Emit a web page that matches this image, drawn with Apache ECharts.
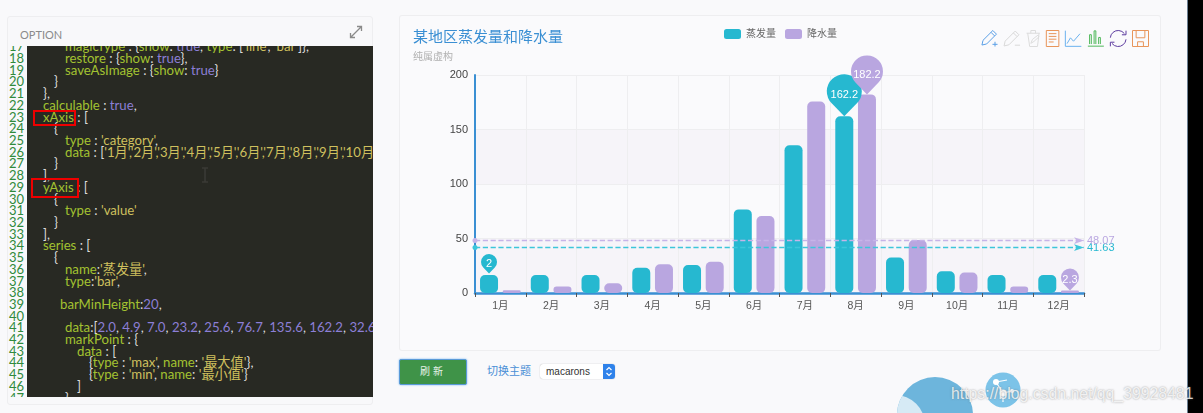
<!DOCTYPE html>
<html>
<head>
<meta charset="utf-8">
<title>某地区蒸发量和降水量</title>
<script src="https://cdn.jsdelivr.net/npm/echarts@6/dist/echarts.min.js"></script>
<style>
  html, body { margin: 0; padding: 0; width: 1203px; height: 413px; overflow: hidden; background: #f9f9fb; font-family: "Liberation Sans", "Noto Sans CJK SC", sans-serif; }
  .abs { position: absolute; }
  #optionPanel { left: 7px; top: 16px; width: 366px; height: 389px; background: #f8f8fa; border: 1px solid #eeeef0; border-radius: 3px; box-sizing: border-box; }
  #optionTitle { left: 20px; top: 28px; font-size: 11px; color: #8a8a8a; font-family: Lato, sans-serif; }
  #editor { left: 27px; top: 46px; width: 346px; height: 351px; background: #282923; overflow: hidden; }
  #gutter { left: 7px; top: 46px; width: 20px; height: 351px; overflow: hidden; }
  .ln { position: absolute; left: 0; width: 17px; text-align: right; font: 13px/12px Lato, sans-serif; color: #2f8a3c; }
  .cl { position: absolute; white-space: pre; font: 13.2px/12px Lato, "Noto Sans CJK SC", sans-serif; color: #ddd; }
  .k { color: #a3c231; } .s { color: #cfc05e; } .n { color: #8c7fd6; }
  .redbox { border: 2px solid #ee0000; box-sizing: border-box; }
  #chartPanel { left: 400px; top: 16px; width: 760px; height: 334px; background: #fafafc; box-shadow: 0 0 0 1px #eeeef0; border-radius: 2px; }
  #chart { width: 760px; height: 334px; }
  #refresh { left: 399px; top: 359px; width: 68px; height: 26px; background: #3f9348; border: 1px solid #5a9ad8; box-shadow: 0 0 2px #6db0ee; border-radius: 2px; box-sizing: border-box; color: #e8f2e8; font-size: 10px; line-height: 24px; text-align: center; letter-spacing: 3px; }
  #themeLabel { left: 487px; top: 364px; font-size: 11px; line-height: 14px; color: #4a8fd6; }
  #themeSelect { left: 540px; top: 364px; width: 75px; height: 15px; background: #fff; border-radius: 3px; box-shadow: 0 0 1px #999; font: 10px/15px "Liberation Sans", sans-serif; color: #333; padding-left: 6px; box-sizing: border-box; }
  #themeStep { right: 0; top: 0; width: 12px; height: 15px; background: #2f82ea; border-radius: 0 3px 3px 0; }
  #blackEdge { left: 1187px; top: 0; width: 16px; height: 413px; background: #000; border-left: 1px solid #6b7f92; box-sizing: border-box; }
  #mark { left: 951px; top: 385px; font: 15.8px/18px "Liberation Sans", sans-serif; color: rgba(255,255,255,0.8); text-shadow: 0 0 2px rgba(110,110,110,0.7); white-space: nowrap; }
</style>
</head>
<body>
<div class="abs" id="optionPanel"></div>
<div class="abs" id="optionTitle">OPTION</div>
<svg class="abs" style="left:349px;top:25px" width="14" height="14" viewBox="0 0 14 14"><path d="M2 12 L12 2 M8 1.5 H12.5 V6 M1.5 8 V12.5 H6" fill="none" stroke="#8a8a8a" stroke-width="1.3"/></svg>
<div class="abs" id="gutter"></div>
<div class="abs" id="editor"></div>
<div class="abs redbox" style="left:33px;top:110px;width:43px;height:16px"></div>
<div class="abs redbox" style="left:31px;top:178px;width:48px;height:20px"></div>
<svg class="abs" style="left:200px;top:167px" width="10" height="16" viewBox="0 0 10 16"><path d="M2 1 H8 M5 1 V15 M2 15 H8" fill="none" stroke="#3a3a36" stroke-width="1.6"/></svg>

<div class="abs" id="chartPanel"><div id="chart"></div></div>

<div class="abs" id="refresh">刷新</div>
<div class="abs" id="themeLabel">切换主题</div>
<div class="abs" id="themeSelect">macarons<div class="abs" id="themeStep"><svg width="12" height="15" viewBox="0 0 12 15"><path d="M3.5 6 L6 3.5 L8.5 6 M3.5 9 L6 11.5 L8.5 9" fill="none" stroke="#fff" stroke-width="1.2"/></svg></div></div>

<svg class="abs" style="left:880px;top:365px" width="160" height="48" viewBox="880 365 160 48">
  <clipPath id="bigClip"><circle cx="935" cy="415" r="38"/></clipPath>
  <circle cx="935" cy="415" r="38" fill="#6db5dc"/>
  <circle cx="895" cy="425" r="30" fill="#d6eaf5" clip-path="url(#bigClip)"/>
  <circle cx="1003" cy="390" r="17.5" fill="#7cc3e8"/>
  <path d="M996 382 L1007 380 M996 382 L1003 393 L1012 391 M1003 393 L1003 402" stroke="#fff" stroke-width="1.2" fill="none"/>
  <circle cx="996" cy="382" r="3" fill="#fff"/><circle cx="1003" cy="393" r="3.5" fill="#fff"/><circle cx="1012" cy="391" r="2" fill="#fff"/>
</svg>
<div class="abs" id="blackEdge"></div>
<div class="abs" id="mark">https://blog.csdn.net/qq_39928481</div>

<script>
const months = ["1月", "2月", "3月", "4月", "5月", "6月", "7月", "8月", "9月", "10月", "11月", "12月"];
const evaporation = [2.0, 4.9, 7.0, 23.2, 25.6, 76.7, 135.6, 162.2, 32.6, 20.0, 6.4, 3.3];
const rainfall = [2.6, 5.9, 9.0, 26.4, 28.7, 70.7, 175.6, 182.2, 48.7, 18.8, 6.0, 2.3];
const legendNames = ["蒸发量", "降水量"];

// first visible line of the editor, then [indent px, html] for each line
const firstLine = 17;
const codeLines = [
  [65, `<span class="k">magicType</span> : {<span class="k">show</span>: <span class="n">true</span>, <span class="k">type</span>: [<span class="s">'line'</span>, <span class="s">'bar'</span>]},`],
  [65, `<span class="k">restore</span> : {<span class="k">show</span>: <span class="n">true</span>},`],
  [65, `<span class="k">saveAsImage</span> : {<span class="k">show</span>: <span class="n">true</span>}`],
  [54, `}`],
  [43, `},`],
  [43, `<span class="k">calculable</span> : <span class="n">true</span>,`],
  [43, `<span class="k">xAxis</span> : [`],
  [54, `{`],
  [65, `<span class="k">type</span> : <span class="s">'category'</span>,`],
  [65, `<span class="k">data</span> : [<span class="s">'1月','2月','3月','4月','5月','6月','7月','8月','9月','10月',</span>`],
  [54, `}`],
  [43, `],`],
  [43, `<span class="k">yAxis</span> : [`],
  [54, `{`],
  [65, `<span class="k">type</span> : <span class="s">'value'</span>`],
  [54, `}`],
  [43, `],`],
  [43, `<span class="k">series</span> : [`],
  [54, `{`],
  [65, `<span class="k">name</span>:<span class="s">'蒸发量'</span>,`],
  [65, `<span class="k">type</span>:<span class="s">'bar'</span>,`],
  [65, ``],
  [60, `<span class="k">barMinHeight</span>:<span class="n">20</span>,`],
  [65, ``],
  [65, `<span class="k">data</span>:[<span class="n">2.0</span>, <span class="n">4.9</span>, <span class="n">7.0</span>, <span class="n">23.2</span>, <span class="n">25.6</span>, <span class="n">76.7</span>, <span class="n">135.6</span>, <span class="n">162.2</span>, <span class="n">32.6</span>, <span class="n">20.0</span>,`],
  [65, `<span class="k">markPoint</span> : {`],
  [77, `<span class="k">data</span> : [`],
  [89, `{<span class="k">type</span> : <span class="s">'max'</span>, <span class="k">name</span>: <span class="s">'最大值'</span>},`],
  [89, `{<span class="k">type</span> : <span class="s">'min'</span>, <span class="k">name</span>: <span class="s">'最小值'</span>}`],
  [77, `]`],
  [65, `}`],
];

const lineStep = 11.71;
const firstY = 0.3;
let gutterHtml = "", editorHtml = "";
codeLines.forEach((line, i) => {
  const top = firstY + i * lineStep;
  gutterHtml += `<div class="ln" style="top:${top - 6}px">${firstLine + i}</div>`;
  editorHtml += `<div class="cl" style="top:${top - 6}px;left:${line[0] - 27}px">${line[1]}</div>`;
});
document.getElementById("gutter").innerHTML = gutterHtml;
document.getElementById("editor").innerHTML = editorHtml;

const BLUE = "#3a8fd3";
const CYAN = "#26b8d0";
const PURPLE = "#b9a6e0";
// shorter than the built-in pin, tip sits on the bottom edge
const PIN = "path://M50 122 L14 84.7 A50 50 0 1 1 86 84.7 Z";

function iconFeature(title, path, color) {
  return { show: true, title, icon: "path://" + path, iconStyle: { borderColor: color, borderWidth: 1 }, onclick() {} };
}

const chart = echarts.init(document.getElementById("chart"));
chart.setOption({
  animation: false,
  textStyle: { fontFamily: '"Liberation Sans", "Noto Sans CJK SC", sans-serif' },
  title: {
    text: "某地区蒸发量和降水量",
    subtext: "纯属虚构",
    left: 13,
    top: 14,
    padding: 0,
    itemGap: 7,
    textStyle: { fontSize: 15, fontWeight: "normal", color: BLUE },
    subtextStyle: { fontSize: 10, color: "#b0b0b0" },
  },
  legend: {
    data: legendNames,
    left: 324,
    top: 13,
    padding: 0,
    itemWidth: 17,
    itemHeight: 10,
    itemGap: 9,
    itemStyle: { borderRadius: 2 },
    textStyle: { fontSize: 10, color: "#666" },
  },
  toolbox: {
    show: true,
    showTitle: false,
    right: 9,
    top: 12,
    padding: 0,
    itemSize: 16,
    itemGap: 1.5,
    feature: {
      myZoom: iconFeature("区域缩放", "M8 92 L14 66 L68 12 L88 32 L34 86 Z M58 22 L78 42 M66 88 H94 M80 74 V100", "#5a9fe6"),
      myBack: iconFeature("区域缩放后退", "M8 92 L14 66 L68 12 L88 32 L34 86 Z M58 22 L78 42 M66 88 H94", "#d8d8d8"),
      myClear: iconFeature("清除", "M16 24 H84 M38 24 V10 H62 V24 M22 24 L32 92 H72 L80 24 M38 76 L46 56 L74 34 L80 42 L54 66 Z", "#dcdcdc"),
      myData: iconFeature("数据视图", "M14 4 H86 V96 H14 Z M28 22 H72 M28 38 H72 M28 54 H72 M28 70 H56", "#e8955a"),
      myLine: iconFeature("折线图", "M4 4 V96 H98 M14 80 L34 46 L52 66 L90 22", "#6cb2ee"),
      myBar: iconFeature("柱形图", "M4 96 H96 M14 84 V30 H24 V84 M40 84 V8 H50 V84 M66 84 V46 H76 V84", "#4fb85a"),
      myRestore: iconFeature("还原", "M12 46 A38 38 0 0 1 80 26 M88 12 V32 H68 M88 54 A38 38 0 0 1 20 74 M12 88 V68 H32", "#5b3a9e"),
      mySave: iconFeature("保存为图片", "M6 6 H94 V94 H6 Z M26 6 V46 H74 V6 M34 68 H66 V94 H34 Z", "#e8955a"),
    },
  },
  grid: { left: 75, right: 76, top: 59, bottom: 57 },
  xAxis: {
    type: "category",
    data: months,
    axisLine: { lineStyle: { color: BLUE, width: 2.5 } },
    axisTick: { show: true, length: 4, lineStyle: { color: "#555", width: 1 } },
    axisLabel: { fontSize: 10.5, color: "#555", margin: 8 },
    splitLine: { show: true, lineStyle: { color: "#eeeef0", width: 1 } },
  },
  yAxis: {
    type: "value",
    min: 0,
    max: 200,
    interval: 50,
    axisLine: { show: true, lineStyle: { color: BLUE, width: 2 } },
    axisTick: { show: false },
    axisLabel: { fontSize: 11, color: "#444", margin: 7 },
    splitLine: { show: true, lineStyle: { color: "#eeeef0", width: 1 } },
    splitArea: { show: true, areaStyle: { color: ["#f6f4f9", "#fafafc"] } },
  },
  series: [
    {
      name: legendNames[0],
      type: "bar",
      data: evaporation,
      barWidth: 18,
      barGap: "26%",
      barMinHeight: 18,
      itemStyle: { color: CYAN, borderRadius: 5 },
      markPoint: {
        symbol: PIN,
        label: { color: "#fff", fontSize: 11 },
        data: [
          { type: "max", name: "最大值", symbolSize: [35, 42], symbolOffset: [0, -21] },
          { type: "min", name: "最小值", symbolSize: [16, 19.5], symbolOffset: [0, -27] },
        ],
      },
      markLine: {
        symbol: ["circle", "arrow"],
        symbolSize: [5, 10],
        label: { position: "end", color: CYAN, fontSize: 11, distance: 3 },
        lineStyle: { color: "#3cc6da", type: "dashed", width: 1.3 },
        data: [{ type: "average", name: "平均值" }],
      },
    },
    {
      name: legendNames[1],
      type: "bar",
      data: rainfall,
      barWidth: 18,
      itemStyle: { color: PURPLE, borderRadius: 5 },
      markPoint: {
        symbol: PIN,
        label: { color: "#fff", fontSize: 11 },
        data: [
          { type: "max", name: "最大值", symbolSize: [32, 39], symbolOffset: [0, -19.5] },
          { type: "min", name: "最小值", symbolSize: [18, 22], symbolOffset: [0, -11] },
        ],
      },
      markLine: {
        symbol: ["circle", "arrow"],
        symbolSize: [5, 10],
        label: { position: "end", color: PURPLE, fontSize: 11, distance: 3 },
        lineStyle: { color: "#c6b4e8", type: "dashed", width: 1.3 },
        data: [{ type: "average", name: "平均值" }],
      },
    },
  ],
});
</script>
</body>
</html>
